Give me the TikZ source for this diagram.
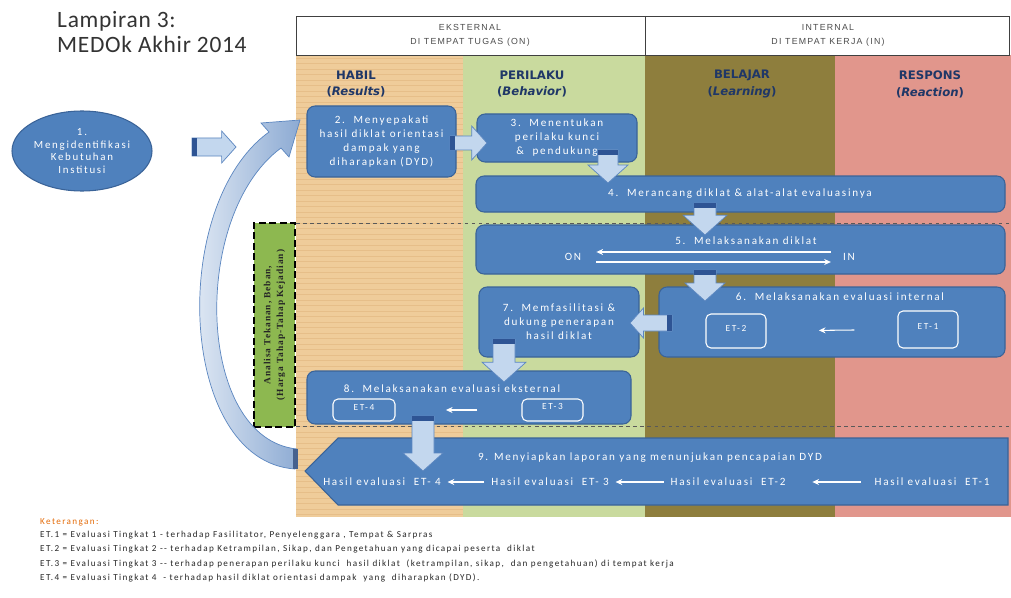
\documentclass[tikz,border=0pt]{standalone}
\usepackage{fontspec}
\setmainfont{Carlito}
\newfontfamily\bodyfont[LetterSpace=16]{Carlito}
\newfontfamily\legfont[LetterSpace=15]{Carlito}
\newfontfamily\titlefont[LetterSpace=3]{Carlito}
\newfontfamily\capfont[LetterSpace=14]{Liberation Sans}
\newfontfamily\headfont{DejaVu Sans}
\newfontfamily\gbfont[LetterSpace=10]{Liberation Serif}
\usetikzlibrary{fit,arrows.meta,shapes.geometric,calc}
\definecolor{habil}{HTML}{EFCC9A}
\definecolor{perilaku}{HTML}{C9DA9E}
\definecolor{belajar}{HTML}{8E7E3D}
\definecolor{respons}{HTML}{E1968C}
\definecolor{boxblue}{HTML}{4F81BD}
\definecolor{boxedge}{HTML}{3A6398}
\definecolor{arrowfill}{HTML}{C3D7EE}
\definecolor{arrowedge}{HTML}{5B86C0}
\definecolor{strip}{HTML}{2E5494}
\definecolor{navy}{HTML}{1F3767}
\definecolor{greenbox}{HTML}{8DB850}
\definecolor{keter}{HTML}{E46C0A}
\newcommand\myfs[2]{\fontsize{#1}{#2}\selectfont}
% #1 x, #2 y of tail centre, #3 angle, #4 length, #5 shaft half width, #6 head half width
\newcommand\blockarrow[6]{%
  \begin{scope}[shift={(#1,#2)},rotate=#3]
    \filldraw[barrowst] (0,-#5) -- ({#4-#6*0.9},-#5) -- ({#4-#6*0.9},-#6) -- (#4,0)
      -- ({#4-#6*0.9},#6) -- ({#4-#6*0.9},#5) -- (0,#5) -- cycle;
    \fill[strip] (0,-#5) rectangle (5,#5);
  \end{scope}}
\tikzset{
  box/.style={draw=boxedge, fill=boxblue, line width=0.9pt, rounded corners=2.4mm, inner sep=0pt},
  boxtxt/.style={text=white, align=center, font=\bodyfont\myfs{9.5}{12}, inner sep=0pt},
  etbox/.style={draw=white, line width=0.9pt, rounded corners=1.5mm, inner sep=0pt, text=white, font=\bodyfont\myfs{8}{10}},
  warrow/.style={draw=white, line width=0.9pt, -{Stealth[length=2mm,width=1.8mm]}},
  barrowst/.style={fill=arrowfill, draw=arrowedge, line width=0.6pt},
  colhead/.style={text=navy, align=center, font=\headfont\bfseries\myfs{10}{14.5}, inner sep=0pt},
  toptxt/.style={text=black!70, align=center, font=\capfont\myfs{7.5}{12.5}, inner sep=0pt},
  legend/.style={anchor=west, inner sep=0pt, font=\legfont\myfs{7.8}{9}, text=black!85},
  rowtxt/.style={text=white, inner sep=0pt, font=\bodyfont\myfs{9.5}{11}},
}
\begin{document}
\begin{tikzpicture}[x=0.3mm,y=-0.3mm]
\useasboundingbox (0,0) rectangle (1011,598);
\fill[white] (0,0) rectangle (1011,598);
% columns
\fill[habil] (296,55) rectangle (463,517);
\fill[perilaku] (463,55) rectangle (645,517);
\fill[belajar] (645,55) rectangle (835,517);
\fill[respons] (835,55) rectangle (1011,517);
\foreach \yy in {58,63.5,...,515} \draw[brown!60!habil, line width=0.25pt, opacity=0.3] (296,\yy) -- (463,\yy);
% header
\draw[black!75, line width=0.6pt] (296,16) rectangle (1009,55);
\draw[black!75, line width=0.6pt] (645,16) -- (645,55);
\node[toptxt] (ekst) at (470,35.5) {EKSTERNAL\\DI TEMPAT TUGAS (ON)};
\node[toptxt] (inte) at (828,35.5) {INTERNAL\\DI TEMPAT KERJA (IN)};
\node[colhead] (hh) at (356,84) {HABIL\\(\textit{Results})};
\node[colhead] (hp) at (532,84) {PERILAKU\\(\textit{Behavior})};
\node[colhead] (hb) at (742,84) {BELAJAR\\(\textit{Learning})};
\node[colhead] (hr) at (930,84) {RESPONS\\(\textit{Reaction})};
% dashed separators
\draw[dashed, black!65, line width=0.5pt] (296,223) -- (1011,223);
\draw[dashed, black!65, line width=0.5pt] (296,426) -- (1011,426);
% title
\node[anchor=west, inner sep=0pt, text=black!80, font=\titlefont\myfs{20}{22}] (ti1) at (57,21) {Lampiran 3:};
\node[anchor=west, inner sep=0pt, text=black!80, font=\titlefont\myfs{20}{22}] (ti2) at (57,44) {MEDOk Akhir 2014};
% green box
\node[fill=greenbox, draw=black, line width=2pt, dash pattern=on 6pt off 3pt, fit={(254,223)(295,427)}, inner sep=0pt] (gb) {};
\node[rotate=90, align=center, font=\gbfont\bfseries\myfs{8}{11}, text=black!85, inner sep=0pt] (gbt) at (gb.center) {Analisa Tekanan, Beban,\\(Harga Tahap-Tahap Kejadian)};
% ellipse
\node[ellipse, fill=boxblue, draw=boxedge, line width=0.9pt, minimum width=42mm, minimum height=24mm, inner sep=0pt, text=white, align=center, font=\bodyfont\myfs{9.3}{11}] (e1) at (82,151) {1.\\Mengidentifikasi\\Kebutuhan\\Institusi};
% curved arrow
\shade[left color=white!80!arrowfill, right color=arrowedge!70!white, draw=arrowedge, line width=0.6pt]
  (295,469) .. controls (178,461) and (168,205) .. (269,132) -- (261,123) -- (300,120)
  -- (289,157) -- (281,148) .. controls (190,215) and (196,439) .. (297,449) -- cycle;
\fill[strip!70!gray] (293,449) rectangle (298,469);
% boxes
\node[box, fit={(307,106)(456,177)}] (b2) {};
\node[boxtxt] (tb2) at (b2.center) {2.\ \ Menyepakati\\hasil diklat orientasi\\dampak yang\\diharapkan (DYD)};
\node[box, fit={(477,114)(637,162)}] (b3) {};
\node[boxtxt] (tb3) at (b3.center) {3.\ \ Menentukan\\perilaku kunci\\\&\ \ pendukung};
\node[box, fit={(476,176)(1005,212)}] (b4) {};
\node[boxtxt] (tb4) at (740,194) {4.\ \ Merancang diklat \& alat-alat evaluasinya};
\node[box, fit={(476,225)(1005,274)}] (b5) {};
\node[boxtxt] (tb5) at (746,241) {5.\ \ Melaksanakan diklat};
\node[rowtxt] (on) at (573,257) {ON};
\node[rowtxt] (in) at (849,257) {IN};
\draw[warrow] ([xshift=-3.6mm,yshift=1.5mm]in.west) -- ([xshift=4.5mm,yshift=1.5mm]on.east);
\draw[warrow] ([xshift=4.5mm,yshift=-1.5mm]on.east) -- ([xshift=-3.6mm,yshift=-1.5mm]in.west);
\node[box, fit={(659,287)(1005,357)}] (b6) {};
\node[boxtxt] (tb6) at (840,297) {6.\ \ Melaksanakan evaluasi internal};
\node[etbox, fit={(706,314)(766,348)}] (et2) {ET-2};
\node[etbox, fit={(898,311)(958,348)}] (et1) {ET-1};
\draw[warrow] ($(et1.west)!0.33!(et2.east)$) -- ($(et1.west)!0.6!(et2.east)$);
\node[box, fit={(479,287)(639,357)}] (b7) {};
\node[boxtxt] (tb7) at (b7.center) {7.\ \ Memfasilitasi \&\\dukung penerapan\\hasil diklat};
\node[box, fit={(307,371)(631,424)}] (b8) {};
\node[boxtxt] (tb8) at (452,389) {8.\ \ Melaksanakan evaluasi eksternal};
\node[etbox, fit={(333,399)(395,421)}] (et4) {ET-4};
\node[etbox, fit={(522,399)(583,421)}] (et3) {ET-3};
\draw[warrow] ($(et3.west)!0.35!(et4.east)$) -- ($(et3.west)!0.6!(et4.east)$);
% box 9 (pentagon)
\filldraw[fill=boxblue, draw=boxedge, line width=0.9pt] (305,471) -- (338,438) -- (1008,438) -- (1008,505) -- (338,505) -- cycle;
\node[inner sep=0pt, fit={(305,438)(1008,505)}] (b9) {};
\node[boxtxt] (tb9) at (650,458) {9. Menyiapkan laporan yang menunjukan pencapaian DYD};
\node[rowtxt] (h4) at (382,482) {Hasil evaluasi\ \ ET- 4};
\node[rowtxt] (h3) at (550,482) {Hasil evaluasi\ \ ET- 3};
\node[rowtxt] (h2) at (728,482) {Hasil evaluasi\ \ ET-2};
\node[rowtxt] (h1) at (932,482) {Hasil evaluasi\ \ ET-1};
\draw[warrow, shorten <=2mm, shorten >=2mm] (h3.west) -- (h4.east);
\draw[warrow, shorten <=2mm, shorten >=2mm] (h2.west) -- (h3.east);
\draw[warrow, shorten <=4mm, shorten >=8mm] (h1.west) -- (h2.east);
% block arrows
\blockarrow{192}{147}{0}{44}{9}{16}
\blockarrow{450}{143}{0}{37}{7}{17}
\blockarrow{608}{150}{-90}{33}{10}{20}
\blockarrow{705}{203}{-90}{32}{11}{22}
\blockarrow{705}{270}{-90}{31}{11}{20}
\blockarrow{672}{323}{180}{42}{8}{15}
\blockarrow{504}{339}{-90}{43}{11}{22}
\blockarrow{423}{416}{-90}{55}{11}{20}
% legend
\node[legend, text=keter] (k0) at (40,522) {Keterangan:};
\node[legend] (k1) at (40,535) {ET.1 = Evaluasi Tingkat 1 - terhadap Fasilitator, Penyelenggara , Tempat \& Sarpras};
\node[legend] (k2) at (40,549) {ET.2 = Evaluasi Tingkat 2 -- terhadap Ketrampilan, Sikap, dan Pengetahuan yang dicapai peserta\ \ diklat};
\node[legend] (k3) at (40,564) {ET.3 = Evaluasi Tingkat 3 -- terhadap penerapan perilaku kunci\ \ hasil diklat\ \ (ketrampilan, sikap,\ \ dan pengetahuan) di tempat kerja};
\node[legend] (k4) at (40,578) {ET.4 = Evaluasi Tingkat 4\ \ - terhadap hasil diklat orientasi dampak\ \ yang\ \ diharapkan (DYD).};
\end{tikzpicture}
\end{document}
